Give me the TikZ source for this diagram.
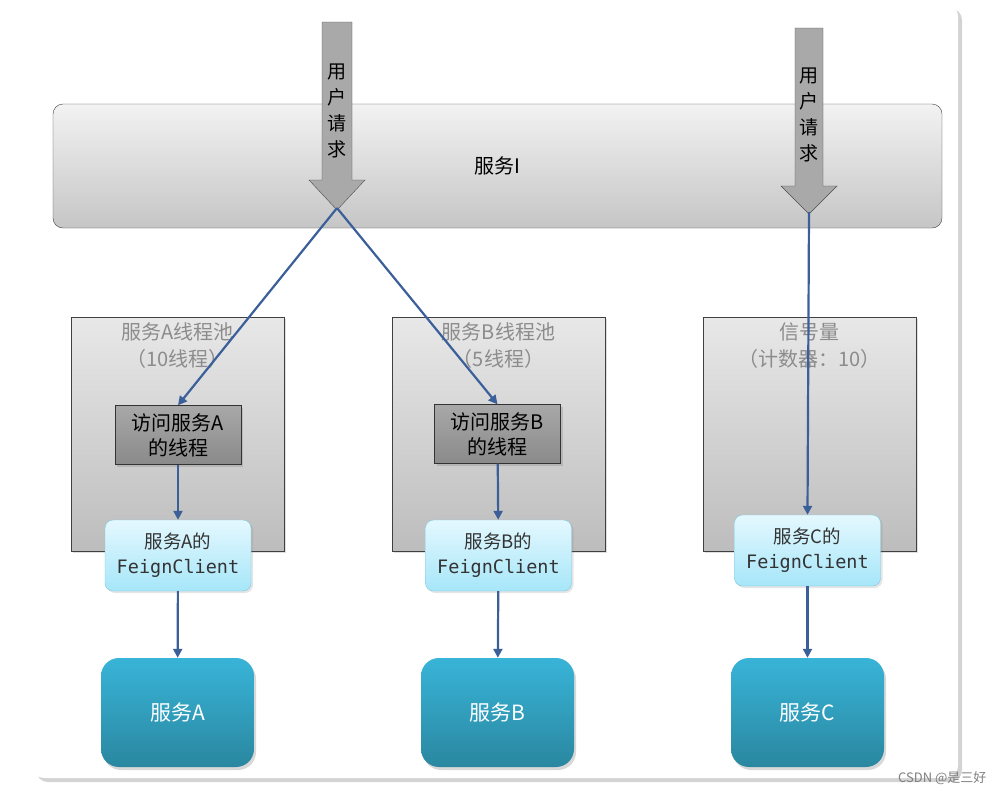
\documentclass[tikz,border=0pt]{standalone}
\usepackage{fontspec}
\setmainfont{Noto Sans CJK SC}
\newfontfamily\codefont{DejaVu Sans Mono}
\usetikzlibrary{arrows.meta,shadows}

\definecolor{flowblue}{HTML}{3B6099}
\definecolor{poolgray}{HTML}{8C8C8C}
\definecolor{reqgray}{HTML}{A9A9A9}
\definecolor{feigntop}{HTML}{E4F8FE}
\definecolor{feignbot}{HTML}{A6E6F9}
\definecolor{feignline}{HTML}{7FC6DC}
\definecolor{svctop}{HTML}{38B4D8}
\definecolor{svcbot}{HTML}{2A87A0}
\definecolor{threadtop}{HTML}{A8A8A8}
\definecolor{threadbot}{HTML}{8A8A8A}

\tikzset{
	card/.style={fill=white, rounded corners=12pt,
		drop shadow={shadow xshift=4pt, shadow yshift=-4pt, opacity=0.35}},
	mainbox/.style={draw=black!75, rounded corners=10pt, top color=gray!10, bottom color=gray!45,
		minimum width=889pt, minimum height=124pt, font=\fontsize{20}{24}\selectfont},
	poolbox/.style={draw=black!75, top color=gray!18, bottom color=gray!52,
		minimum width=213pt, minimum height=234pt,
		drop shadow={shadow xshift=2pt, shadow yshift=-2pt, opacity=0.25}},
	pooltitle/.style={text=poolgray, align=center, font=\fontsize{20}{27}\selectfont},
	threadbox/.style={draw=black!80, top color=threadtop, bottom color=threadbot,
		minimum width=126pt, minimum height=59pt, align=center,
		font=\fontsize{20}{25}\selectfont, inner sep=1pt,
		drop shadow={shadow xshift=2pt, shadow yshift=-2pt, opacity=0.3}},
	feignbox/.style={draw=feignline, rounded corners=8pt, top color=feigntop, bottom color=feignbot,
		minimum width=146pt, minimum height=71pt, align=center, text=black!80,
		font=\fontsize{18.5}{25}\selectfont, inner sep=1pt,
		drop shadow={shadow xshift=2pt, shadow yshift=-2pt, opacity=0.2}},
	svcbox/.style={rounded corners=18pt, top color=svctop, bottom color=svcbot,
		minimum width=153pt, minimum height=109pt, text=white,
		font=\fontsize{21}{24}\selectfont,
		drop shadow={shadow xshift=2pt, shadow yshift=-3pt, opacity=0.3}},
	reqarrow/.style={draw=black!70, fill=reqgray, line join=miter},
	reqtext/.style={align=center, font=\fontsize{19}{26}\selectfont, inner sep=0pt},
	flow/.style={draw=flowblue, line width=2.2pt, -{Triangle[length=9pt,width=9pt]}},
}

\begin{document}
\begin{tikzpicture}[x=1pt,y=-1pt]

	% page
	\useasboundingbox (0,0) rectangle (1002,796);
	\fill[card] (32,4) rectangle (958,778);

	% service I
	\node[mainbox] (svcI) at (497.5,166) {服务I};

	% pools
	\node[poolbox] (poolA) at (177.5,434) {};
	\node[poolbox] (poolB) at (498.5,434) {};
	\node[poolbox] (poolC) at (809.5,434) {};
	\node[pooltitle, anchor=north] (titleA) at ([yshift=-2pt]poolA.north) {服务A线程池\\（10线程）};
	\node[pooltitle, anchor=north] (titleB) at ([yshift=-2pt]poolB.north) {服务B线程池\\（5线程）};
	\node[pooltitle, anchor=north] (titleC) at ([yshift=-2pt]poolC.north) {信号量\\（计数器：10）};

	% threads
	\node[threadbox] (threadA) at (178,435) {访问服务A\\的线程};
	\node[threadbox] (threadB) at (497.5,434) {访问服务B\\的线程};

	% feign clients
	\node[feignbox] (feignA) at (178,555.5) {服务A的\\{\codefont FeignClient}};
	\node[feignbox] (feignB) at (498.5,555.5) {服务B的\\{\codefont FeignClient}};
	\node[feignbox] (feignC) at (807.5,550.5) {服务C的\\{\codefont FeignClient}};

	% services
	\node[svcbox] (svcA) at (177.5,712.5) {服务A};
	\node[svcbox] (svcB) at (497.5,712.5) {服务B};
	\node[svcbox] (svcC) at (807.5,712.5) {服务C};

	% user requests
	\draw[reqarrow] (322,22) -- (352,22) -- (352,180) -- (365,180) -- (337,210)
		-- (309,180) -- (322,180) -- cycle;
	\draw[reqarrow] (795,28) -- (823,28) -- (823,186) -- (837,186) -- (809,214)
		-- (781,186) -- (795,186) -- cycle;
	\coordinate (reqL) at (337,208);
	\coordinate (reqR) at (809,212);
	\node[reqtext] (txtL) at (337,111) {用\\户\\请\\求};
	\node[reqtext] (txtR) at (809,115) {用\\户\\请\\求};

	% flows
	\draw[flow] (reqL) -- (threadA.north);
	\draw[flow] (reqL) -- (threadB.north);
	\draw[flow] (reqR) -- (feignC.north);
	\draw[flow] (threadA) -- (feignA);
	\draw[flow] (threadB) -- (feignB);
	\draw[flow] (feignA) -- (svcA);
	\draw[flow] (feignB) -- (svcB);
	\draw[flow] (feignC) -- (svcC);

	% watermark
	\node[text=gray, font=\fontsize{13}{15}\selectfont, anchor=east] (mark) at (990,778) {CSDN @是三好};

\end{tikzpicture}
\end{document}
